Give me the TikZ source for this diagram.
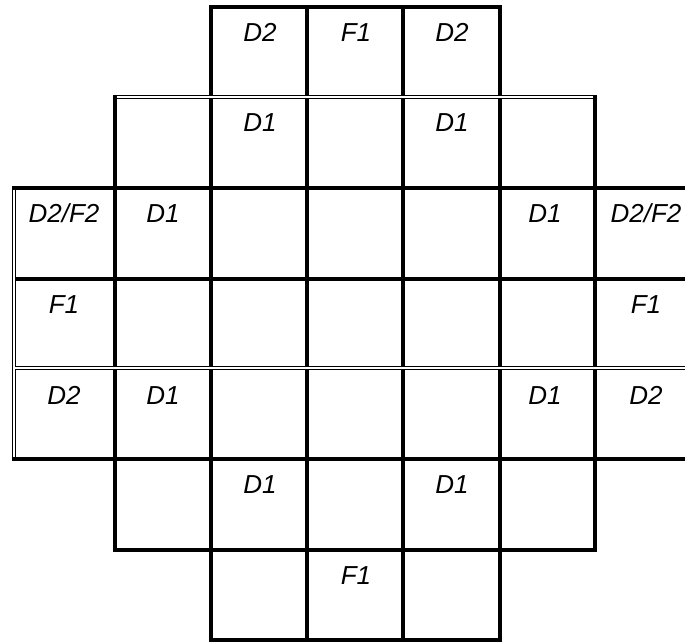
\documentclass[tikz,border=0pt]{standalone}
\usepackage{fontspec}
\setmainfont{Liberation Sans}
\begin{document}
\begin{tikzpicture}[x=1pt,y=-1pt,
  rule/.style={line width=3.2pt},
  dbl/.style={double, line width=1.4pt, double distance=1.4pt},
  lbl/.style={anchor=base, inner sep=0pt, font=\fontsize{26}{31}\selectfont\itshape}]
\useasboundingbox (0,0) rectangle (685,643);
% column and row rulings
\def\xA{14}\def\xB{115}\def\xC{211}\def\xD{307}\def\xE{403}\def\xF{500}\def\xG{595}\def\xR{720}
\def\yA{7}\def\yB{97}\def\yC{188}\def\yD{279}\def\yE{368}\def\yF{459}\def\yG{550}\def\yH{640}
% single heavy rulings
\draw[rule] (\xC-1.6,\yA) -- (\xF+1.6,\yA);
\draw[rule] (\xA-2.1,\yC) -- (\xR,\yC);
\draw[rule] (\xA-2.1,\yD) -- (\xR,\yD);
\draw[rule] (\xA-2.1,\yF) -- (\xR,\yF);
\draw[rule] (\xB-1.6,\yG) -- (\xG+1.6,\yG);
\draw[rule] (\xC-1.6,\yH) -- (\xF+1.6,\yH);
\draw[rule] (\xB,\yB-2.1) -- (\xB,\yG+1.6);
\draw[rule] (\xG,\yB-2.1) -- (\xG,\yG+1.6);
\foreach \x in {\xC,\xD,\xE,\xF}
  \draw[rule] (\x,\yA-1.6) -- (\x,\yH+1.6);
% double rulings
\draw[dbl] (\xB+1.6,\yB) -- (\xG-1.6,\yB);
\draw[dbl] (\xA,\yC+1.6) -- (\xA,\yF-1.6);
\draw[dbl] (\xA+0.8,\yE) -- (\xR,\yE);
% cell labels
\def\cA{64}\def\cB{163}\def\cC{260}\def\cD{356}\def\cE{452}\def\cF{545}\def\cG{646}
\node[lbl] (r1c3) at (\cC,\yA+34) {D2};
\node[lbl] (r1c4) at (\cD,\yA+34) {F1};
\node[lbl] (r1c5) at (\cE,\yA+34) {D2};
\node[lbl] (r2c3) at (\cC,\yB+34) {D1};
\node[lbl] (r2c5) at (\cE,\yB+34) {D1};
\node[lbl] (r3c1) at (\cA,\yC+34) {D2/F2};
\node[lbl] (r3c2) at (\cB,\yC+34) {D1};
\node[lbl] (r3c6) at (\cF,\yC+34) {D1};
\node[lbl] (r3c7) at (\cG,\yC+34) {D2/F2};
\node[lbl] (r4c1) at (\cA,\yD+34) {F1};
\node[lbl] (r4c7) at (\cG,\yD+34) {F1};
\node[lbl] (r5c1) at (\cA,\yE+36) {D2};
\node[lbl] (r5c2) at (\cB,\yE+36) {D1};
\node[lbl] (r5c6) at (\cF,\yE+36) {D1};
\node[lbl] (r5c7) at (\cG,\yE+36) {D2};
\node[lbl] (r6c3) at (\cC,\yF+34) {D1};
\node[lbl] (r6c5) at (\cE,\yF+34) {D1};
\node[lbl] (r7c4) at (\cD,\yG+34) {F1};
\end{tikzpicture}
\end{document}
